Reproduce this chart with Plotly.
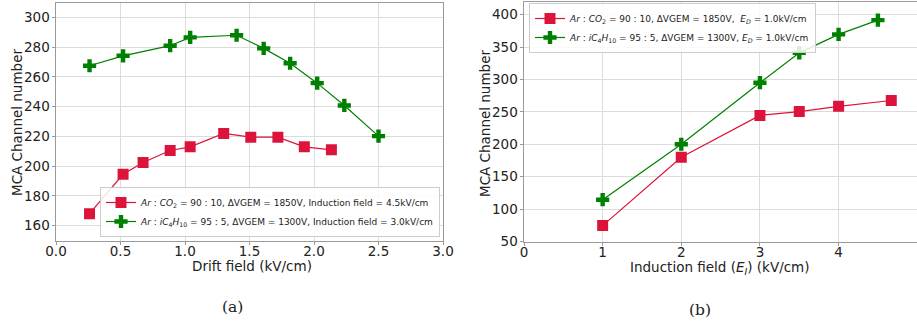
import plotly.graph_objects as go

# Panel (a): channel number vs drift field
drift_co2 = [0.26, 0.52, 0.675, 0.885, 1.04, 1.30, 1.51, 1.72, 1.925, 2.135]
mca_co2_drift = [168, 194.5, 202.5, 210.5, 213, 222, 219.5, 219.5, 213, 211]
drift_ib = [0.26, 0.52, 0.885, 1.04, 1.40, 1.61, 1.815, 2.025, 2.235, 2.50]
mca_ib_drift = [267.5, 274.2, 281, 286.6, 288, 279.2, 269.2, 255.8, 240.8, 220.2]

# Panel (b): channel number vs induction field
ind_co2 = [1.0, 2.0, 3.0, 3.5, 4.0, 4.67]
mca_co2_ind = [74.5, 180, 244.5, 250.5, 258.5, 267.5]
ind_ib = [1.0, 2.0, 3.0, 3.5, 4.0, 4.5]
mca_ib_ind = [114.5, 200, 295, 341, 369.5, 391.5]

RED = "#DC143C"
GREEN = "#008000"
SPINE = "#9a9a9a"
GRID = "#dcdcdc"
TICKFONT = dict(family="DejaVu Sans", size=13.5, color="#222")
TITLEFONT = dict(family="DejaVu Sans", size=13.5, color="#222")
CAPFONT = dict(family="DejaVu Serif", size=15.5, color="#222")

label_co2_a = "<i>Ar</i> : <i>CO</i><sub>2</sub> = 90 : 10, ΔVGEM = 1850V, Induction field = 4.5kV/cm"
label_ib_a = "<i>Ar</i> : <i>iC</i><sub>4</sub><i>H</i><sub>10</sub> = 95 : 5, ΔVGEM = 1300V, Induction field = 3.0kV/cm"
label_co2_b = "<i>Ar</i> : <i>CO</i><sub>2</sub> = 90 : 10, ΔVGEM = 1850V,  <i>E<sub>D</sub></i> = 1.0kV/cm"
label_ib_b = "<i>Ar</i> : <i>iC</i><sub>4</sub><i>H</i><sub>10</sub> = 95 : 5, ΔVGEM = 1300V, <i>E<sub>D</sub></i> = 1.0kV/cm"

fig = go.Figure()

def add(x, y, name, color, symbol, xa, ya, legend):
    fig.add_trace(go.Scatter(
        x=x, y=y, name=name, mode="lines+markers",
        line=dict(color=color, width=1.2),
        marker=dict(color=color, symbol=symbol, size=11,
                    line=dict(width=0)),
        xaxis=xa, yaxis=ya, legend=legend,
    ))

add(drift_co2, mca_co2_drift, label_co2_a, RED, "square", "x", "y", "legend")
add(drift_ib, mca_ib_drift, label_ib_a, GREEN, "cross", "x", "y", "legend")
add(ind_co2, mca_co2_ind, label_co2_b, RED, "square", "x2", "y2", "legend2")
add(ind_ib, mca_ib_ind, label_ib_b, GREEN, "cross", "x2", "y2", "legend2")

W, H = 917, 324

axis_common = dict(
    showline=True, linecolor=SPINE, linewidth=1, mirror=True,
    showgrid=True, gridcolor=GRID, gridwidth=1,
    ticks="outside", ticklen=3.5, tickcolor=SPINE,
    tickfont=TICKFONT, zeroline=False, automargin=False,
)
xaxis_common = dict(ticklabelstandoff=-5, **axis_common)
yaxis_common = dict(ticklabelstandoff=-1, **axis_common)

legend_common = dict(
    bgcolor="rgba(255,255,255,0.85)", bordercolor="#cccccc", borderwidth=1,
    font=dict(family="DejaVu Sans", size=9, color="#222"),
    xanchor="left", tracegroupgap=0, itemwidth=30,
)

def label(text, x, y, font, angle=0):
    return dict(text=text, x=x / W, y=1 - y / H, xref="paper", yref="paper",
                showarrow=False, xanchor="center", yanchor="middle",
                textangle=angle, font=font)

fig.update_layout(
    width=W, height=H,
    margin=dict(l=0, r=0, t=0, b=0),
    paper_bgcolor="white", plot_bgcolor="white",
    showlegend=True,
    xaxis=dict(domain=[56 / W, 443 / W], range=[0, 3.0], dtick=0.5,
               tickformat=".1f", anchor="y", **xaxis_common),
    yaxis=dict(domain=[1 - 240.5 / H, 1 - 3.3 / H], range=[150, 309.5],
               dtick=20, anchor="x", **yaxis_common),
    xaxis2=dict(domain=[524 / W, 1.0], range=[0, 4.997], dtick=1,
                anchor="y2", **xaxis_common),
    yaxis2=dict(domain=[1 - 241.5 / H, 1 - 2 / H], range=[50, 419.5],
                dtick=50, anchor="x2", **yaxis_common),
    legend=dict(x=100 / W, y=1 - 237 / H, yanchor="bottom", **legend_common),
    legend2=dict(x=529 / W, y=1 - 3 / H, yanchor="top", **legend_common),
    annotations=[
        label("Drift field (kV/cm)", 251.5, 265.5, TITLEFONT),
        label("Induction field (<i>E<sub>I</sub></i>) (kV/cm)", 720, 268, TITLEFONT),
        label("MCA Channel number", 17, 123, TITLEFONT, -90),
        label("MCA Channel number", 485, 123, TITLEFONT, -90),
        label("(a)", 232, 307, CAPFONT),
        label("(b)", 700, 310, CAPFONT),
    ],
)

fig.write_html("out.html")
